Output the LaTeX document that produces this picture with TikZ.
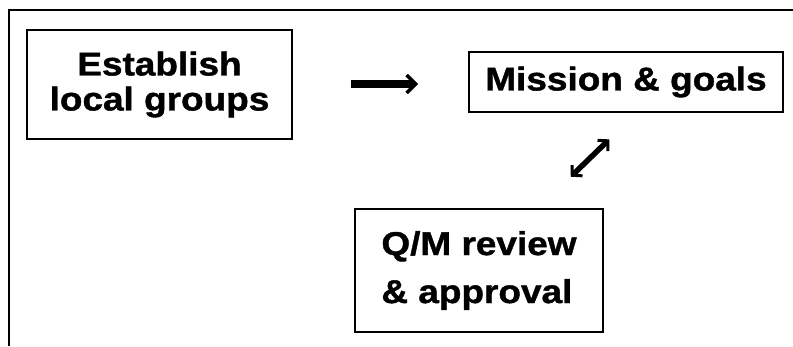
\documentclass[tikz,border=0pt]{standalone}
\usepackage{fontspec}
\setmainfont{Liberation Sans}[FakeStretch=1.12, BoldFeatures={FakeBold=1.2}]
\usetikzlibrary{arrows.meta}

\begin{document}
\begin{tikzpicture}[x=1pt, y=-1pt,
  box/.style={draw, line width=1.8pt, inner sep=0pt, font=\bfseries\fontsize{33}{35}\selectfont},
  fatarrow/.style={line width=8pt, -{Straight Barb[line width=3.5pt, length=9pt, width=18pt]}},
  twoarrow/.style={line width=5.5pt, {Straight Barb[line width=3pt, length=7pt, width=15pt]}-{Straight Barb[line width=3pt, length=7pt, width=15pt]}}]

\useasboundingbox (0,0) rectangle (793,346);

% outer frame
\draw[line width=2.2pt] (9,346) -- (9,10) -- (793,10);

% boxes
\node[box, align=center, minimum width=265pt, minimum height=109pt] (estab) at (159.5,84.5) {Establish\\local groups};
\node[box, minimum width=314pt, minimum height=60pt] (mission) at (626,82) {Mission \& goals};
\node[box, align=left, minimum width=248pt, minimum height=123pt, font=\bfseries\fontsize{33}{48}\selectfont] (review) at (479,270.5) {Q/M review\\\& approval};

% arrows
\draw[fatarrow, shorten <=58pt, shorten >=50pt] (estab.east |- 0,84) -- (mission.west |- 0,84);
\draw[twoarrow, shorten <=45pt, shorten >=38pt] ([xshift=59.5pt]review.north) -- ([xshift=10.5pt]mission.south);

\end{tikzpicture}
\end{document}
